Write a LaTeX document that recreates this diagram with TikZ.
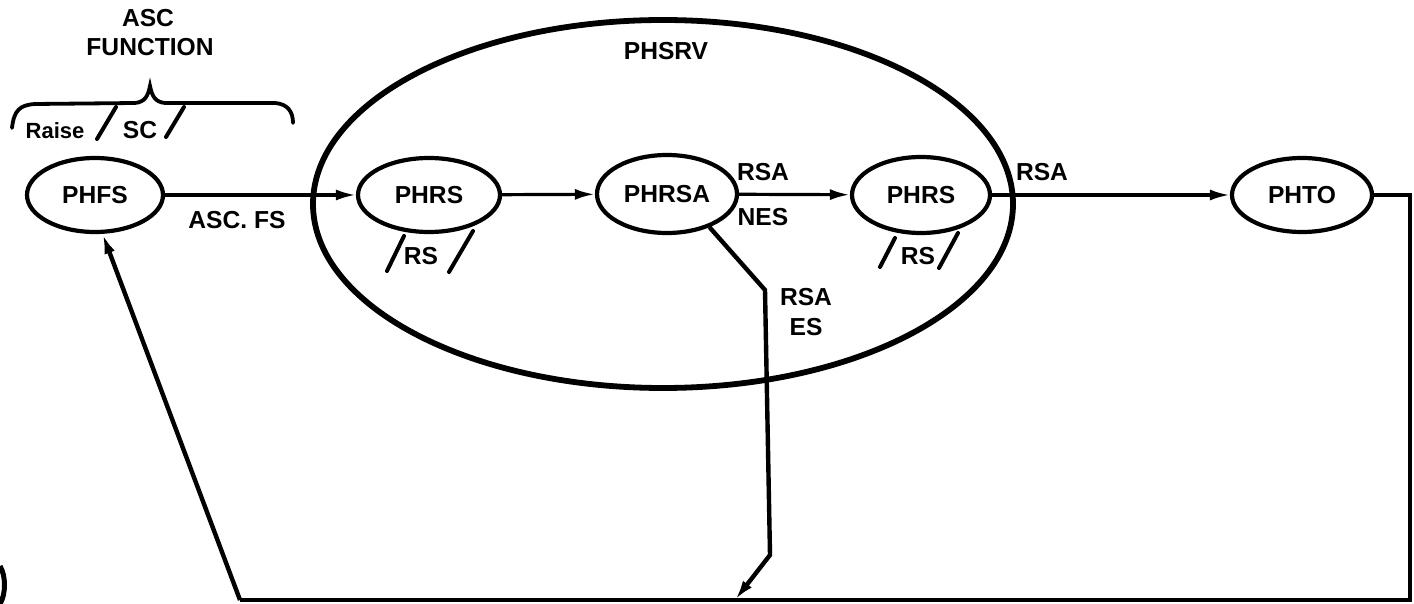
\documentclass[tikz,border=0pt]{standalone}
\usepackage{fontspec}
\setmainfont{Liberation Sans}
\usetikzlibrary{shapes.geometric,arrows.meta}
\begin{document}
\begin{tikzpicture}[x=0.5pt,y=-0.5pt,
  proc/.style={ellipse,draw,line width=2.1pt,inner sep=0pt,minimum width=70pt,minimum height=37pt,font=\fontsize{12.3}{14}\selectfont\bfseries},
  lbl/.style={inner sep=0pt,font=\fontsize{12.3}{14}\selectfont\bfseries},
  conn/.style={line width=1.6pt,-{Latex[length=10pt,width=5.5pt]}},
  thick line/.style={line width=2.2pt},
  slash/.style={line width=2pt,line cap=round}]
\useasboundingbox (0,0) rectangle (1414,604);
% big ellipse
\node[ellipse,draw,line width=2.9pt,minimum width=350pt,minimum height=184pt,inner sep=0pt] (phsrv) at (663,204) {};
\node[lbl] (phsrvl) at (666,51) {PHSRV};
% process nodes
\node[proc,minimum width=68pt] (phfs) at (95,195) {PHFS};
\node[proc,minimum width=71pt] (phrsa1) at (429,195) {PHRS};
\node[proc,minimum height=39pt] (phrsa) at (667,194) {PHRSA};
\node[proc,minimum width=69pt,minimum height=38pt] (phrs2) at (921,195) {PHRS};
\node[proc] (phto) at (1302,195) {PHTO};
% ASC function
\node[lbl] (asc) at (148,18) {ASC};
\node[lbl] (func) at (150,47) {FUNCTION};
\draw[line width=1.9pt,line cap=round] (12,128) .. controls (14,110) and (20,105) .. (35,104) -- (135,103) .. controls (145,102) and (148,96) .. (150,86) .. controls (152,96) and (155,102) .. (165,103) -- (275,103) .. controls (288,104) and (293,112) .. (293,123);
\node[lbl,font=\fontsize{11}{13}\selectfont\bfseries] (raise) at (55,131) {Raise};
\draw[slash] (97,139) -- (116,107);
\node[lbl] (sc) at (140,130) {SC};
\draw[slash] (166,137) -- (184,107);
% RS stores
\draw[slash] (387,271) -- (404,236);
\node[lbl] (rs1) at (421,256) {RS};
\draw[slash] (449,272) -- (473,231);
\draw[slash] (880,267) -- (895,238);
\node[lbl] (rs2) at (918,256) {RS};
\draw[slash] (939,268) -- (958,233);
% connectors
\draw[conn] (phfs) -- (phrsa1);
\node[lbl] (ascfs) at (237,220) {ASC. FS};
\draw[conn] (phrsa1) -- (phrsa);
\draw[conn] (phrsa) -- (phrs2);
\node[lbl] (rsa1) at (763,172) {RSA};
\node[lbl] (nes) at (763,217) {NES};
\draw[conn] (phrs2) -- (phto);
\node[lbl] (rsa2) at (1042,172) {RSA};
% return path
\coordinate (c1) at (1410,195);
\coordinate (c2) at (1410,600);
\coordinate (c3) at (240,600);
\draw[thick line] (phto.east) -- (c1) -- (c2) -- (c3);
\draw[thick line,-{Latex[length=10pt,width=5.5pt]}] (c3) -- (phfs.-79);
% error branch
\coordinate (b1) at (765,290);
\coordinate (b2) at (770,555);
\coordinate (b3) at (735,600);
\draw[thick line,-{Latex[length=10pt,width=5.5pt]}] (phrsa.-38) -- (b1) -- (b2) -- (b3);
\node[lbl] (rsa3) at (806,297) {RSA};
\node[lbl] (es) at (806,327) {ES};
% fragment at left edge
\draw[line width=2.5pt] (0,566) .. controls (6,576) and (6,594) .. (0,604);
\end{tikzpicture}
\end{document}
